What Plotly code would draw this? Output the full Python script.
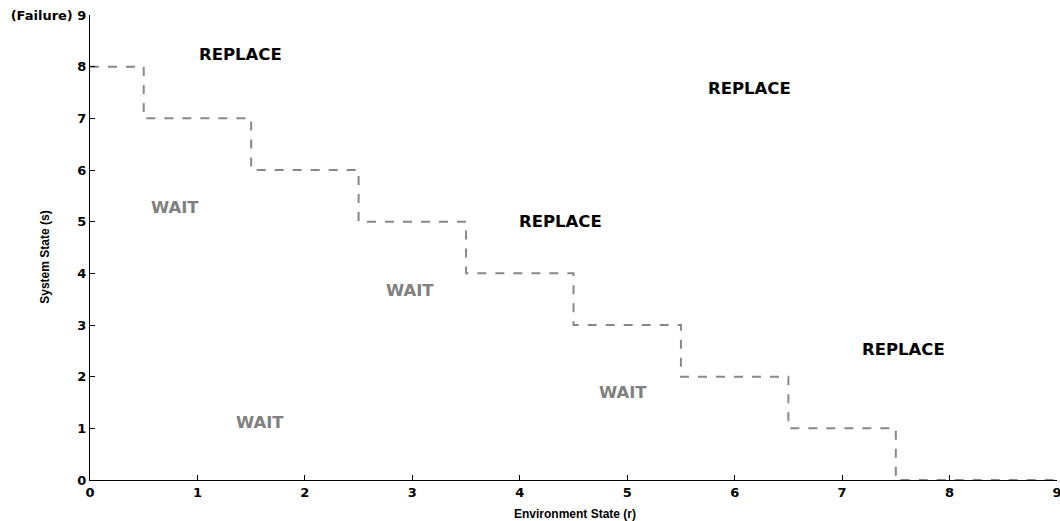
import plotly.graph_objects as go

# Policy boundary (step): threshold system state per environment state
step_x = [0, 0.5, 1.5, 2.5, 3.5, 4.5, 5.5, 6.5, 7.5, 9]
step_y = [8, 7, 6, 5, 4, 3, 2, 1, 0, 0]

replace_x = [1.4, 6.14, 4.38, 7.57]
replace_y = [8.24, 7.57, 5.01, 2.52]
wait_x = [0.79, 2.98, 4.96, 1.58]
wait_y = [5.28, 3.66, 1.70, 1.12]

x_ticks = list(range(10))
y_ticks = list(range(10))
y_tick_text = [str(v) for v in range(9)] + ["(Failure) 9"]

LBL_FONT = "DejaVu Sans"
TITLE_FONT = "Arial, Liberation Sans"

fig = go.Figure()
fig.add_trace(go.Scatter(
    x=step_x, y=step_y, mode="lines", line_shape="hv",
    line=dict(color="#888888", width=2, dash="dash"),
    showlegend=False, hoverinfo="skip", cliponaxis=False))

for x, y in zip(replace_x, replace_y):
    fig.add_annotation(x=x, y=y, text="<b>REPLACE</b>", showarrow=False,
                       font=dict(family=LBL_FONT, size=16.5, color="black"))
for x, y in zip(wait_x, wait_y):
    fig.add_annotation(x=x, y=y, text="<b>WAIT</b>", showarrow=False,
                       font=dict(family=LBL_FONT, size=16.5, color="#808080"))

fig.add_annotation(xref="paper", yref="paper", x=0.502, y=-0.073,
                   xanchor="center", yanchor="middle",
                   text="<b>Environment State (r)</b>", showarrow=False,
                   font=dict(family=TITLE_FONT, size=12, color="black"))
fig.add_annotation(xref="paper", yref="paper", x=-0.0466, y=0.48, textangle=-90,
                   xanchor="center", yanchor="middle",
                   text="<b>System State (s)</b>", showarrow=False,
                   font=dict(family=TITLE_FONT, size=12, color="black"))

axis_common = dict(showgrid=False, zeroline=False, showline=True, linecolor="black",
                   linewidth=1, ticks="inside", ticklen=5, tickcolor="black",
                   automargin=False, ticklabeloverflow="allow",
                   tickfont=dict(family=LBL_FONT, size=13, color="black", weight="bold"))

fig.update_xaxes(range=[0, 9], tickvals=x_ticks, **axis_common)
fig.update_yaxes(range=[0, 9], tickvals=y_ticks, ticktext=y_tick_text, **axis_common)

fig.update_layout(width=1060, height=521, plot_bgcolor="white", paper_bgcolor="white",
                  margin=dict(l=90, r=3, t=15, b=41))
fig.write_html("out.html", config={"displayModeBar": False},
               post_script="document.body.style.margin='0';document.body.style.overflow='hidden';")
